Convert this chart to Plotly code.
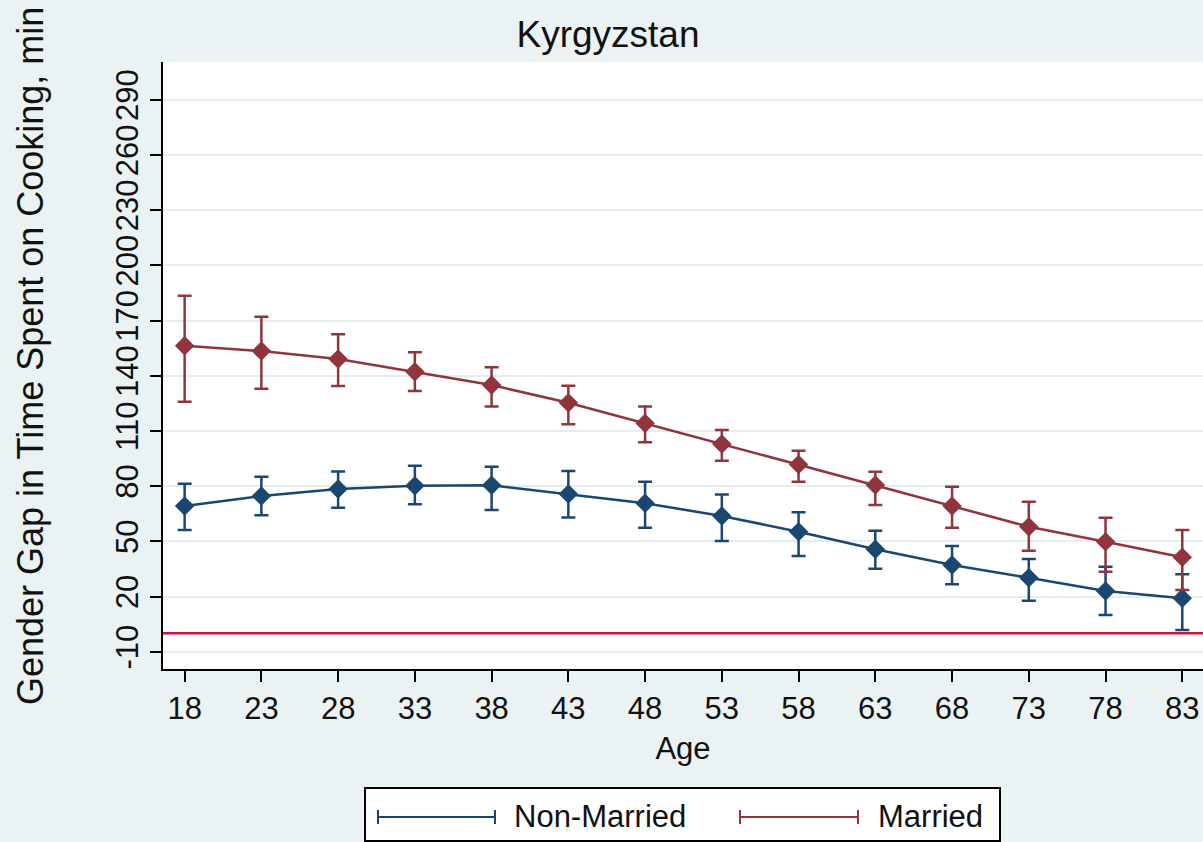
import plotly.graph_objects as go

# Data
ages = [18, 23, 28, 33, 38, 43, 48, 53, 58, 63, 68, 73, 78, 83]

nonmarried = [69.2, 74.6, 78.4, 80.2, 80.4, 75.7, 70.7, 63.8, 55.2, 45.7, 37.1, 30.2, 23.0, 19.0]
nonmarried_hi = [81.3, 85.1, 88.0, 91.1, 90.5, 88.2, 82.4, 75.5, 65.8, 55.8, 47.4, 40.4, 36.2, 32.1]
nonmarried_lo = [56.1, 64.1, 68.3, 70.1, 67.0, 63.0, 57.4, 50.2, 42.0, 35.1, 26.6, 17.7, 9.9, 1.8]

married = [156.3, 153.4, 149.1, 142.2, 134.9, 125.3, 114.1, 102.9, 91.8, 80.6, 69.2, 57.9, 49.8, 41.3]
married_hi = [183.5, 172.1, 162.5, 152.7, 144.6, 134.6, 123.2, 110.5, 99.2, 87.8, 79.7, 71.5, 62.8, 56.1]
married_lo = [125.9, 132.9, 134.4, 131.7, 123.2, 113.6, 103.8, 93.8, 82.4, 69.7, 57.4, 44.9, 33.5, 23.5]

y_ticks = [-10, 20, 50, 80, 110, 140, 170, 200, 230, 260, 290]
y_ticktext = ["-10", "20", "50", "80", "110", "140", "170", "200", "230", "260", "290"]
x_ticks = ages
ref_line = 0

NAVY = "#1a476f"
MAROON = "#90353b"
BG = "#eaf2f3"
FONT = "Liberation Sans, Arial, sans-serif"

W, H = 1203, 842
L, R, T, B = 163, 0, 62, 173
pw, ph = W - L - R, H - T - B


# pixel -> paper coords (for the hand-drawn legend etc.)
def px(x):
    return (x - L) / pw


def py(y):
    return (H - B - y) / ph


def series(y, hi, lo, color, name):
    return go.Scatter(
        x=ages, y=y, name=name, mode="lines+markers",
        line=dict(color=color, width=2.5),
        marker=dict(symbol="diamond", size=15, color=color),
        error_y=dict(
            type="data", symmetric=False,
            array=[h - v for h, v in zip(hi, y)],
            arrayminus=[v - l for v, l in zip(y, lo)],
            color=color, thickness=2.5, width=7,
        ),
        showlegend=False,
    )


fig = go.Figure()
fig.add_trace(series(nonmarried, nonmarried_hi, nonmarried_lo, NAVY, "Non-Married"))
fig.add_trace(series(married, married_hi, married_lo, MAROON, "Married"))

fig.add_hline(y=ref_line, line=dict(color="#c8183f", width=2.5), layer="below")

# hand-made Stata-style legend (rcap symbols)
shapes = [
    dict(type="rect", xref="paper", yref="paper",
         x0=px(365), x1=px(1000), y0=py(841), y1=py(788),
         line=dict(color="black", width=2), fillcolor="white", layer="above"),
]
for (xa, xb, col) in [(378, 495, NAVY), (740, 858, MAROON)]:
    shapes.append(dict(type="line", xref="paper", yref="paper",
                       x0=px(xa), x1=px(xb), y0=py(817), y1=py(817),
                       line=dict(color=col, width=2)))
    for xe in (xa, xb):
        shapes.append(dict(type="line", xref="paper", yref="paper",
                           x0=px(xe), x1=px(xe), y0=py(810), y1=py(824),
                           line=dict(color=col, width=2)))
fig.update_layout(shapes=list(fig.layout.shapes) + shapes)

annotations = [
    dict(text="Non-Married", xref="paper", yref="paper", x=px(512), y=py(816),
         xanchor="left", yanchor="middle", showarrow=False,
         font=dict(size=31, color="#111", family=FONT)),
    dict(text="Married", xref="paper", yref="paper", x=px(876), y=py(816),
         xanchor="left", yanchor="middle", showarrow=False,
         font=dict(size=31, color="#111", family=FONT)),
    dict(text="Gender Gap in Time Spent on Cooking, min", xref="paper", yref="paper",
         x=px(30), y=py(356), xanchor="center", yanchor="middle", textangle=-90,
         showarrow=False, font=dict(size=36, color="#111", family=FONT)),
]

fig.update_layout(
    width=W, height=H,
    margin=dict(l=L, r=R, t=T, b=B),
    paper_bgcolor=BG, plot_bgcolor="white",
    font=dict(family=FONT, color="#111", size=31),
    title=dict(text="Kyrgyzstan", x=608 / W, xref="container", xanchor="center",
               y=1 - 34 / H, yref="container", yanchor="middle",
               font=dict(size=37, color="#111", family=FONT)),
    annotations=annotations,
    xaxis=dict(
        range=[16.59, 84.35], tickvals=x_ticks, showgrid=False, zeroline=False,
        showline=True, linecolor="black", linewidth=2,
        ticks="outside", ticklen=11, tickwidth=2, tickcolor="black",
        tickfont=dict(size=31),
        title=dict(text="Age", font=dict(size=31), standoff=12),
    ),
    yaxis=dict(
        range=[-19.4, 310.5], tickvals=y_ticks, ticktext=y_ticktext, tickangle=-90,
        showgrid=True, gridcolor="#e4eef0", gridwidth=2, zeroline=False,
        showline=True, linecolor="black", linewidth=2,
        ticks="outside", ticklen=11, tickwidth=2, tickcolor="black",
        tickfont=dict(size=31),
    ),
)

# drop the default page margin so the figure fills the window like the original image
fig.write_html(
    "out.html",
    config={"displayModeBar": False},
    post_script="document.body.style.margin='0';document.body.style.background='%s';" % BG,
)
